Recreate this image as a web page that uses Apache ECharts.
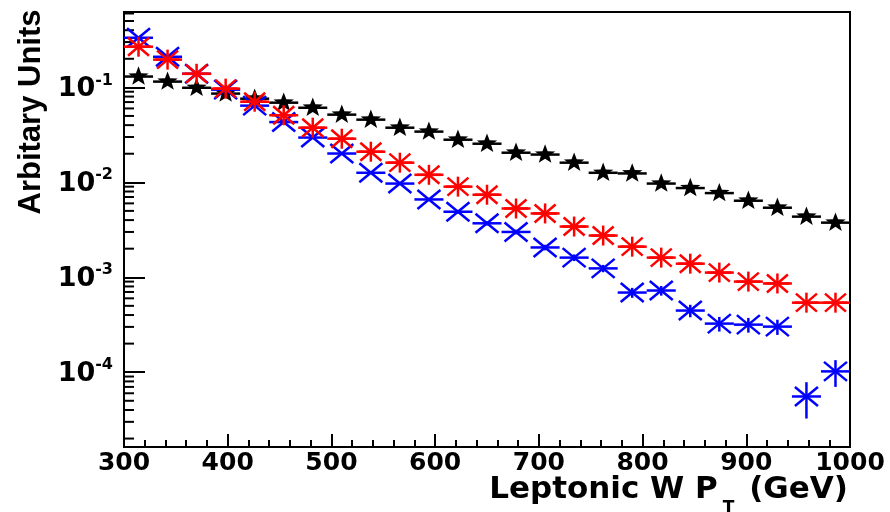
<!DOCTYPE html>
<html>
<head>
<meta charset="utf-8">
<script src="https://cdn.jsdelivr.net/npm/echarts@6/dist/echarts.min.js"></script>
<style>
  html, body { margin: 0; padding: 0; background: #fff; }
  #chart { width: 890px; height: 512px; }
</style>
</head>
<body>
<div id="chart"></div>
<script>
// ---- data ----
const binCenters = [314, 342, 370, 398, 426, 454, 482, 510, 538, 566, 594, 622, 650,
                    678, 706, 734, 762, 790, 818, 846, 874, 902, 930, 958, 986];
const blackValues = [0.130, 0.115, 0.099, 0.086, 0.076, 0.069, 0.061, 0.0516, 0.0457, 0.0376,
                     0.0342, 0.0281, 0.0255, 0.0205, 0.0196, 0.0161, 0.0126, 0.0124, 0.0097,
                     0.0087, 0.0077, 0.0064, 0.0054, 0.00435, 0.00376];
const redValues = [0.268, 0.196, 0.139, 0.097, 0.0706, 0.0509, 0.0376, 0.0288, 0.0210, 0.0161,
                   0.0120, 0.0090, 0.0074, 0.0053, 0.0047, 0.00342, 0.00275, 0.0021, 0.00161,
                   0.00139, 0.00112, 0.00090, 0.00086, 0.00054, 0.00054];
const blueValues = [0.333, 0.210, 0.139, 0.0946, 0.0642, 0.0431, 0.0296, 0.0201, 0.0126, 0.0097,
                    0.0066, 0.0049, 0.0037, 0.0030, 0.00206, 0.00161, 0.00124, 0.00069, 0.000725,
                    0.000446, 0.000325, 0.000317, 0.000302, 0.0000555, 0.000102];
const blueErrors = [0.00183, 0.00145, 0.00118, 0.00097, 0.00080, 0.00066, 0.00054, 0.00045, 0.00035,
                    0.00031, 0.00026, 0.00022, 0.00019, 0.00017, 0.00014, 0.00013, 0.00011, 0.000083,
                    0.000085, 0.000067, 0.000057, 0.000056, 0.000055, 0.000023, 0.000032];
const xTickLabels = ['300', '400', '500', '600', '700', '800', '900', '1000'];
const yDecades = [1e-5, 1e-4, 1e-3, 1e-2, 1e-1];
const yMinorMultipliers = [2, 3, 4, 5, 6, 7, 8, 9];
const binWidth = 28;

const X_MIN = 300, X_MAX = 1000, Y_MIN = 1.63e-5, Y_MAX = 0.622;

const yMinorTicks = [];
yDecades.forEach(d => yMinorMultipliers.forEach(m => {
  const v = d * m;
  if (v > Y_MIN && v < Y_MAX) yMinorTicks.push(v);
}));

function toData(values, errors) {
  return binCenters.map((x, i) => [x, values[i], errors ? errors[i] : 0]);
}

function makeRender(kind, color) {
  return function (params, api) {
    const x = api.value(0), y = api.value(1), e = api.value(2);
    const c = api.coord([x, y]);
    const l = api.coord([x - binWidth / 2, y]);
    const r = api.coord([x + binWidth / 2, y]);
    const st = { stroke: color, lineWidth: 2.5, fill: null };
    const ch = [{ type: 'line', shape: { x1: l[0], y1: c[1], x2: r[0], y2: c[1] }, style: st }];
    if (e > 0) {
      const u = api.coord([x, y + e]);
      const d = api.coord([x, Math.max(y - e, Y_MIN)]);
      ch.push({ type: 'line', shape: { x1: c[0], y1: u[1], x2: c[0], y2: d[1] }, style: st });
    }
    const cx = c[0], cy = c[1];
    if (kind === 'star') {
      const pts = [];
      for (let i = 0; i < 10; i++) {
        const a = -Math.PI / 2 + i * Math.PI / 5;
        const rad = (i % 2) ? 4.2 : 10.2;
        pts.push([cx + 1.05 * rad * Math.cos(a), cy + rad * Math.sin(a)]);
      }
      ch.push({ type: 'polygon', shape: { points: pts }, style: { fill: color, stroke: null } });
    } else if (kind === 'asterisk') {
      const segs = [[-12, 0, 12, 0], [0, -10, 0, 10], [-10.5, -9, 10.5, 9], [-10.5, 9, 10.5, -9]];
      segs.forEach(s => ch.push({ type: 'line', shape: { x1: cx + s[0], y1: cy + s[1], x2: cx + s[2], y2: cy + s[3] }, style: st }));
    } else {
      const segs = [[-11.5, -9.5, 11.5, 9.5], [-11.5, 9.5, 11.5, -9.5]];
      segs.forEach(s => ch.push({ type: 'line', shape: { x1: cx + s[0], y1: cy + s[1], x2: cx + s[2], y2: cy + s[3] }, style: st }));
    }
    return { type: 'group', children: ch };
  };
}

const chart = echarts.init(document.getElementById('chart'), null, { renderer: 'canvas' });
const FONT = 'DejaVu Sans';

chart.setOption({
  animation: false,
  backgroundColor: '#fff',
  grid: {
    left: 124, right: 40, top: 12, bottom: 65,
    show: true, borderColor: '#000', borderWidth: 2, backgroundColor: 'transparent',
    containLabel: false, outerBoundsMode: 'none'
  },
  xAxis: {
    type: 'value', min: X_MIN, max: X_MAX, interval: 100,
    axisLine: { show: true, onZero: false, lineStyle: { color: '#000', width: 2 } },
    axisTick: { show: true, inside: true, length: 13, lineStyle: { color: '#000', width: 2 } },
    minorTick: { show: true, splitNumber: 5, length: 7, lineStyle: { color: '#000', width: 2 } },
    splitLine: { show: false }, minorSplitLine: { show: false },
    axisLabel: {
      color: '#000', fontFamily: FONT, fontWeight: 'bold', fontSize: 25, margin: 4,
      formatter: v => xTickLabels[Math.round((v - X_MIN) / 100)]
    },
    name: '{a|Leptonic W P}{sub|T}{a| (GeV)}',
    nameLocation: 'end', nameGap: -2, nameMoveOverlap: false,
    nameTextStyle: {
      align: 'right', verticalAlign: 'top', padding: [27, 0, 0, 0],
      rich: {
        a: { fontFamily: FONT, fontWeight: 'bold', fontSize: 31, color: '#000', lineHeight: 32, verticalAlign: 'top' },
        sub: { fontFamily: FONT, fontWeight: 'bold', fontSize: 17, color: '#000', lineHeight: 17, padding: [26, 4, 0, 5], verticalAlign: 'top' }
      }
    }
  },
  yAxis: {
    type: 'log', logBase: 10, min: Y_MIN, max: Y_MAX,
    axisLine: { show: true, onZero: false, lineStyle: { color: '#000', width: 2 } },
    axisTick: { show: true, inside: true, length: 21, lineStyle: { color: '#000', width: 2 } },
    splitLine: { show: false },
    axisLabel: {
      showMinLabel: false, showMaxLabel: false, margin: 11,
      formatter: v => '{b|10}{s|' + Math.round(Math.log10(v)) + '}',
      rich: {
        b: { fontFamily: FONT, fontWeight: 'bold', fontSize: 27, color: '#000', lineHeight: 30, verticalAlign: 'bottom' },
        s: { fontFamily: FONT, fontWeight: 'bold', fontSize: 16, color: '#000', lineHeight: 16, verticalAlign: 'top' }
      }
    }
  },
  graphic: [{
    type: 'text', x: 31, y: 112, rotation: Math.PI / 2,
    style: {
      text: 'Arbitary Units', fill: '#000',
      font: 'bold 31px "Liberation Sans", Arial, sans-serif',
      textAlign: 'center', textVerticalAlign: 'middle'
    }
  }],
  series: [
    {
      name: 'minor ticks', type: 'custom', silent: true, clip: false,
      data: yMinorTicks.map(v => [X_MIN, v]),
      renderItem: (params, api) => {
        const p = api.coord([api.value(0), api.value(1)]);
        return { type: 'line', shape: { x1: p[0], y1: p[1], x2: p[0] + 10, y2: p[1] }, style: { stroke: '#000', lineWidth: 2 } };
      }
    },
    { name: 'black', type: 'custom', silent: true, data: toData(blackValues), renderItem: makeRender('star', '#000000') },
    { name: 'blue', type: 'custom', silent: true, data: toData(blueValues, blueErrors), renderItem: makeRender('x', '#0000ff') },
    { name: 'red', type: 'custom', silent: true, data: toData(redValues), renderItem: makeRender('asterisk', '#ff0000') }
  ]
});
</script>
</body>
</html>
